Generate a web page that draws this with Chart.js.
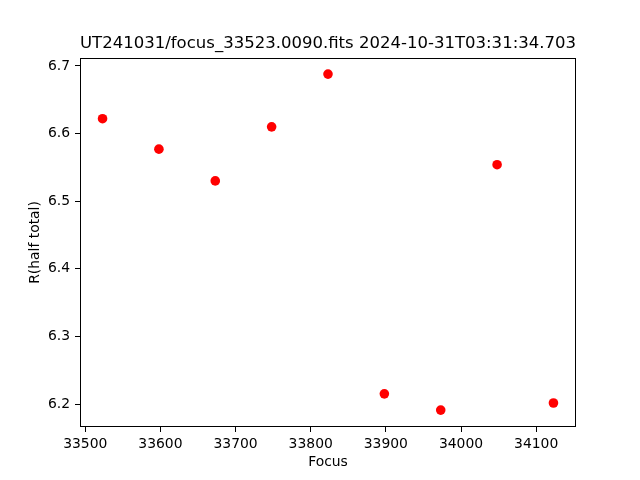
<!DOCTYPE html>
<html>
<head>
<meta charset="utf-8">
<script src="https://cdn.jsdelivr.net/npm/chart.js@4/dist/chart.umd.min.js"></script>
<style>
  body { margin: 0; background: #fff; }
</style>
</head>
<body>
<canvas id="focusChart" width="640" height="480"></canvas>
<script>
// data
var focusVals = [33523, 33598, 33673, 33748, 33823, 33898, 33973, 34048, 34123];
var rHalf = [6.622, 6.577, 6.530, 6.610, 6.688, 6.215, 6.191, 6.554, 6.2015];
var xTicks = [33500, 33600, 33700, 33800, 33900, 34000, 34100];
var yTicks = [6.2, 6.3, 6.4, 6.5, 6.6, 6.7];

var pts = [];
for (var i = 0; i < focusVals.length; i++) {
  pts.push({x: focusVals[i], y: rHalf[i]});
}

// black frame round the plot area, like the matplotlib spines
var frame = {
  id: 'frame',
  afterDraw: function(chart) {
    var a = chart.chartArea, c = chart.ctx;
    c.save();
    c.strokeStyle = '#000';
    c.lineWidth = 1;
    c.strokeRect(a.left + 0.5, a.top + 0.5, a.right - a.left - 1, a.bottom - a.top - 1);
    c.restore();
  }
};

var fnt = "'DejaVu Sans', sans-serif";

var ctx = document.getElementById('focusChart').getContext('2d');
var myChart = new Chart(ctx, {
  type: 'scatter',
  data: {
    datasets: [{
      data: pts,
      backgroundColor: '#ff0000',
      borderWidth: 0,
      pointRadius: 4.8,
      pointHoverRadius: 4.8
    }]
  },
  plugins: [frame],
  options: {
    responsive: false,
    animation: false,
    layout: { padding: { left: 0, right: 64, top: 0, bottom: 0 } },
    plugins: {
      legend: { display: false },
      tooltip: { enabled: false },
      title: {
        display: true,
        fullSize: false,
        text: 'UT241031/focus_33523.0090.fits 2024-10-31T03:31:34.703',
        color: '#000',
        font: { family: fnt, size: 16.67, weight: 'normal', lineHeight: 1.2 },
        padding: { top: 34, bottom: 4 }
      }
    },
    scales: {
      x: {
        type: 'linear',
        min: 33493,
        max: 34153,
        afterBuildTicks: function(s) { s.ticks = xTicks.map(function(v) { return {value: v}; }); },
        afterFit: function(s) { s.height = 53; },
        border: { display: false },
        grid: { drawOnChartArea: false, drawTicks: true, tickLength: 5, tickColor: '#000', tickWidth: 1 },
        ticks: {
          color: '#000',
          padding: 4,
          maxRotation: 0,
          font: { family: fnt, size: 13.9 },
          callback: function(v) { return String(v); }
        },
        title: {
          display: true,
          text: 'Focus',
          color: '#000',
          font: { family: fnt, size: 13.9, lineHeight: 1.2 },
          padding: { top: 0, bottom: 9.6 }
        }
      },
      y: {
        type: 'linear',
        min: 6.166,
        max: 6.7118,
        afterBuildTicks: function(s) { s.ticks = yTicks.map(function(v) { return {value: v}; }); },
        afterFit: function(s) { s.width = 80; },
        border: { display: false },
        grid: { drawOnChartArea: false, drawTicks: true, tickLength: 5, tickColor: '#000', tickWidth: 1 },
        ticks: {
          color: '#000',
          padding: 5,
          font: { family: fnt, size: 13.9 },
          callback: function(v) { return v.toFixed(1); }
        },
        title: {
          display: true,
          text: 'R(half total)',
          color: '#000',
          font: { family: fnt, size: 13.9, lineHeight: 1.2 },
          padding: { top: 26.6, bottom: 0 }
        }
      }
    }
  }
});
</script>
</body>
</html>
